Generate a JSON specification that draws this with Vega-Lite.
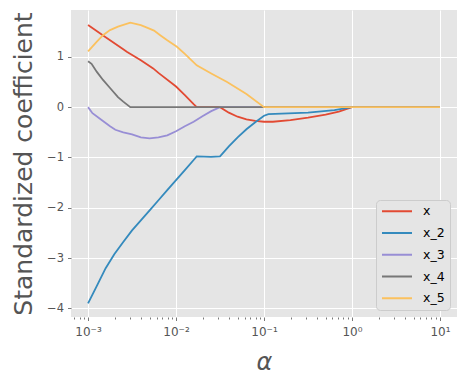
{
  "$schema": "https://vega.github.io/schema/vega-lite/v6.json",
  "width": 386,
  "height": 307,
  "autosize": {"type": "none"},
  "padding": {"left": 71, "top": 10, "right": 10, "bottom": 68},
  "background": "white",
  "config": {
    "view": {"fill": "#E5E5E5", "stroke": null},
    "font": "DejaVu Sans"
  },
  "data": {
    "values": [
      {"var": "x", "alpha": 0.001, "coef": 1.63},
      {"var": "x", "alpha": 0.001585, "coef": 1.39},
      {"var": "x", "alpha": 0.002512, "coef": 1.15},
      {"var": "x", "alpha": 0.002754, "coef": 1.10},
      {"var": "x", "alpha": 0.003981, "coef": 0.93},
      {"var": "x", "alpha": 0.005495, "coef": 0.77},
      {"var": "x", "alpha": 0.00631, "coef": 0.68},
      {"var": "x", "alpha": 0.01, "coef": 0.41},
      {"var": "x", "alpha": 0.01259, "coef": 0.24},
      {"var": "x", "alpha": 0.01585, "coef": 0.06},
      {"var": "x", "alpha": 0.01718, "coef": 0.0},
      {"var": "x", "alpha": 0.03162, "coef": 0.0},
      {"var": "x", "alpha": 0.03981, "coef": -0.11},
      {"var": "x", "alpha": 0.05012, "coef": -0.19},
      {"var": "x", "alpha": 0.0631, "coef": -0.245},
      {"var": "x", "alpha": 0.07943, "coef": -0.275},
      {"var": "x", "alpha": 0.1, "coef": -0.29},
      {"var": "x", "alpha": 0.1259, "coef": -0.29},
      {"var": "x", "alpha": 0.1995, "coef": -0.26},
      {"var": "x", "alpha": 0.3162, "coef": -0.21},
      {"var": "x", "alpha": 0.5012, "coef": -0.15},
      {"var": "x", "alpha": 0.7079, "coef": -0.09},
      {"var": "x", "alpha": 1, "coef": 0.0},
      {"var": "x", "alpha": 10, "coef": 0.0},

      {"var": "x_2", "alpha": 0.001, "coef": -3.9},
      {"var": "x_2", "alpha": 0.001259, "coef": -3.55},
      {"var": "x_2", "alpha": 0.001585, "coef": -3.2},
      {"var": "x_2", "alpha": 0.001995, "coef": -2.92},
      {"var": "x_2", "alpha": 0.002512, "coef": -2.68},
      {"var": "x_2", "alpha": 0.003162, "coef": -2.45},
      {"var": "x_2", "alpha": 0.003981, "coef": -2.25},
      {"var": "x_2", "alpha": 0.005012, "coef": -2.05},
      {"var": "x_2", "alpha": 0.00631, "coef": -1.85},
      {"var": "x_2", "alpha": 0.007943, "coef": -1.65},
      {"var": "x_2", "alpha": 0.01, "coef": -1.45},
      {"var": "x_2", "alpha": 0.01259, "coef": -1.25},
      {"var": "x_2", "alpha": 0.01585, "coef": -1.05},
      {"var": "x_2", "alpha": 0.01718, "coef": -0.98},
      {"var": "x_2", "alpha": 0.025, "coef": -0.99},
      {"var": "x_2", "alpha": 0.03162, "coef": -0.98},
      {"var": "x_2", "alpha": 0.03981, "coef": -0.78},
      {"var": "x_2", "alpha": 0.05012, "coef": -0.6},
      {"var": "x_2", "alpha": 0.0631, "coef": -0.44},
      {"var": "x_2", "alpha": 0.07943, "coef": -0.3},
      {"var": "x_2", "alpha": 0.1, "coef": -0.17},
      {"var": "x_2", "alpha": 0.1122, "coef": -0.14},
      {"var": "x_2", "alpha": 0.3162, "coef": -0.11},
      {"var": "x_2", "alpha": 0.631, "coef": -0.06},
      {"var": "x_2", "alpha": 1, "coef": 0.0},
      {"var": "x_2", "alpha": 10, "coef": 0.0},

      {"var": "x_3", "alpha": 0.001, "coef": 0.0},
      {"var": "x_3", "alpha": 0.001122, "coef": -0.12},
      {"var": "x_3", "alpha": 0.001413, "coef": -0.25},
      {"var": "x_3", "alpha": 0.001778, "coef": -0.38},
      {"var": "x_3", "alpha": 0.002042, "coef": -0.45},
      {"var": "x_3", "alpha": 0.002512, "coef": -0.5},
      {"var": "x_3", "alpha": 0.003162, "coef": -0.54},
      {"var": "x_3", "alpha": 0.003981, "coef": -0.6},
      {"var": "x_3", "alpha": 0.005012, "coef": -0.62},
      {"var": "x_3", "alpha": 0.00631, "coef": -0.6},
      {"var": "x_3", "alpha": 0.007943, "coef": -0.56},
      {"var": "x_3", "alpha": 0.01, "coef": -0.48},
      {"var": "x_3", "alpha": 0.01259, "coef": -0.38},
      {"var": "x_3", "alpha": 0.01585, "coef": -0.29},
      {"var": "x_3", "alpha": 0.01995, "coef": -0.18},
      {"var": "x_3", "alpha": 0.02512, "coef": -0.08},
      {"var": "x_3", "alpha": 0.03162, "coef": 0.0},
      {"var": "x_3", "alpha": 10, "coef": 0.0},

      {"var": "x_4", "alpha": 0.001, "coef": 0.91},
      {"var": "x_4", "alpha": 0.001096, "coef": 0.86},
      {"var": "x_4", "alpha": 0.001259, "coef": 0.7},
      {"var": "x_4", "alpha": 0.001479, "coef": 0.54},
      {"var": "x_4", "alpha": 0.001778, "coef": 0.38},
      {"var": "x_4", "alpha": 0.002188, "coef": 0.2},
      {"var": "x_4", "alpha": 0.002512, "coef": 0.11},
      {"var": "x_4", "alpha": 0.00302, "coef": 0.0},
      {"var": "x_4", "alpha": 10, "coef": 0.0},

      {"var": "x_5", "alpha": 0.001, "coef": 1.11},
      {"var": "x_5", "alpha": 0.001259, "coef": 1.3},
      {"var": "x_5", "alpha": 0.001479, "coef": 1.43},
      {"var": "x_5", "alpha": 0.001778, "coef": 1.53},
      {"var": "x_5", "alpha": 0.002188, "coef": 1.6},
      {"var": "x_5", "alpha": 0.00302, "coef": 1.68},
      {"var": "x_5", "alpha": 0.003981, "coef": 1.63},
      {"var": "x_5", "alpha": 0.004677, "coef": 1.58},
      {"var": "x_5", "alpha": 0.005623, "coef": 1.52},
      {"var": "x_5", "alpha": 0.006607, "coef": 1.43},
      {"var": "x_5", "alpha": 0.007943, "coef": 1.33},
      {"var": "x_5", "alpha": 0.01023, "coef": 1.2},
      {"var": "x_5", "alpha": 0.01259, "coef": 1.06},
      {"var": "x_5", "alpha": 0.01718, "coef": 0.83},
      {"var": "x_5", "alpha": 0.02512, "coef": 0.67},
      {"var": "x_5", "alpha": 0.03802, "coef": 0.5},
      {"var": "x_5", "alpha": 0.0631, "coef": 0.26},
      {"var": "x_5", "alpha": 0.1, "coef": 0.0},
      {"var": "x_5", "alpha": 10, "coef": 0.0}
    ]
  },
  "mark": {"type": "line", "strokeWidth": 1.8, "clip": true},
  "encoding": {
    "x": {
      "field": "alpha",
      "type": "quantitative",
      "scale": {"type": "log", "domain": [0.00064, 15.6], "nice": false},
      "axis": {
        "values": [0.0007, 0.0008, 0.0009, 0.001, 0.002, 0.003, 0.004, 0.005, 0.006, 0.007, 0.008, 0.009, 0.01, 0.02, 0.03, 0.04, 0.05, 0.06, 0.07, 0.08, 0.09, 0.1, 0.2, 0.3, 0.4, 0.5, 0.6, 0.7, 0.8, 0.9, 1, 2, 3, 4, 5, 6, 7, 8, 9, 10],
        "labelExpr": "abs(log(datum.value)/LN10 - round(log(datum.value)/LN10)) > 0.01 ? '' : round(log(datum.value)/LN10) == -3 ? '10⁻³' : round(log(datum.value)/LN10) == -2 ? '10⁻²' : round(log(datum.value)/LN10) == -1 ? '10⁻¹' : round(log(datum.value)/LN10) == 0 ? '10⁰' : '10¹'",
        "labelOverlap": false,
        "labelFlush": false,
        "labelFontSize": 12,
        "labelColor": "#555555",
        "labelPadding": 6,
        "domain": false,
        "grid": true,
        "gridColor": "white",
        "gridWidth": 1,
        "gridOpacity": {"condition": {"test": "abs(log(datum.value)/LN10 - round(log(datum.value)/LN10)) < 0.01", "value": 1}, "value": 0},
        "tickSize": {"condition": {"test": "abs(log(datum.value)/LN10 - round(log(datum.value)/LN10)) < 0.01", "value": 3.5}, "value": 2},
        "tickColor": "#555555",
        "tickWidth": 0.8,
        "title": "α",
        "titleFontSize": 24,
        "titleFontStyle": "italic",
        "titleFontWeight": "normal",
        "titleColor": "#555555",
        "titlePadding": 13
      }
    },
    "y": {
      "field": "coef",
      "type": "quantitative",
      "scale": {"domain": [-4.17, 1.93], "nice": false, "zero": false},
      "axis": {
        "values": [-4, -3, -2, -1, 0, 1],
        "format": "d",
        "labelFontSize": 11.5,
        "labelColor": "#555555",
        "labelPadding": 4,
        "domain": false,
        "grid": true,
        "gridColor": "white",
        "gridWidth": 1,
        "tickSize": 3.5,
        "tickColor": "#555555",
        "tickWidth": 0.8,
        "title": "Standardized coefficient",
        "titleFontSize": 25,
        "titleFontWeight": "normal",
        "titleColor": "#555555",
        "titlePadding": 10
      }
    },
    "color": {
      "field": "var",
      "type": "nominal",
      "scale": {"domain": ["x", "x_2", "x_3", "x_4", "x_5"], "range": ["#E24A33", "#348ABD", "#988ED5", "#777777", "#FBC15E"]},
      "legend": {
        "title": null,
        "orient": "bottom-right",
        "offset": 7,
        "fillColor": "#E5E5E5",
        "strokeColor": "#CCCCCC",
        "cornerRadius": 4,
        "padding": 5,
        "clipHeight": 12.5,
        "symbolType": "stroke",
        "symbolSize": 900,
        "symbolStrokeWidth": 2,
        "labelFontSize": 12.5,
        "labelColor": "black",
        "labelOffset": 10,
        "rowPadding": 8.75
      }
    }
  }
}
